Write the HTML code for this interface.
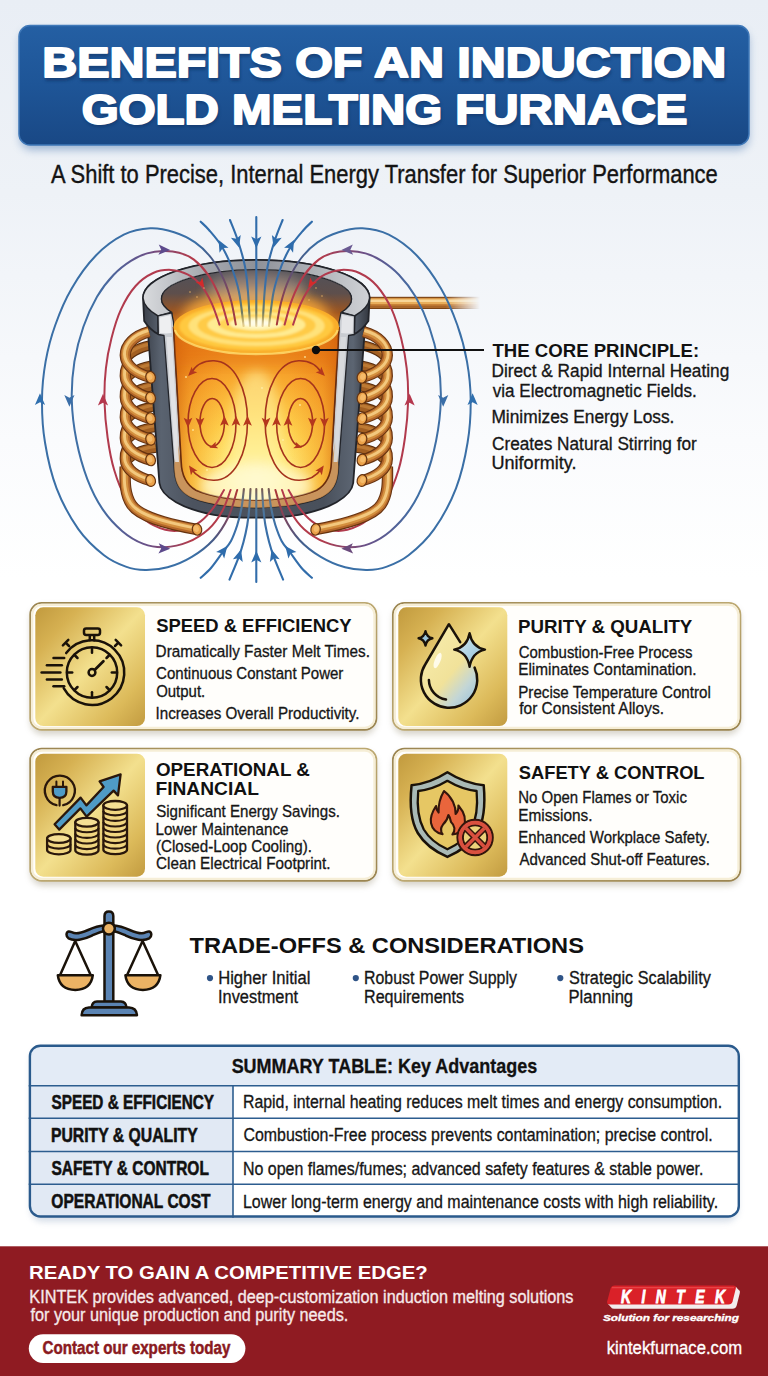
<!DOCTYPE html>
<html><head><meta charset="utf-8"><title>Benefits of an Induction Gold Melting Furnace</title>
<style>
html,body{margin:0;padding:0;background:#fff;}
body{width:768px;height:1376px;overflow:hidden;font-family:"Liberation Sans",sans-serif;}
svg{display:block;font-family:"Liberation Sans",sans-serif;}
</style></head><body>
<svg width="768" height="1376" viewBox="0 0 768 1376">
<defs>
<linearGradient id="bg" x1="0" y1="0" x2="0" y2="1">
 <stop offset="0" stop-color="#e9eef5"/><stop offset="0.14" stop-color="#eef2f7"/><stop offset="0.32" stop-color="#fafbfd"/><stop offset="0.42" stop-color="#ffffff"/><stop offset="1" stop-color="#ffffff"/>
</linearGradient>
<linearGradient id="titleg" x1="0" y1="0" x2="0" y2="1">
 <stop offset="0" stop-color="#245fa3"/><stop offset="0.5" stop-color="#1e5597"/><stop offset="1" stop-color="#194885"/>
</linearGradient>
<linearGradient id="gold" x1="0" y1="0" x2="1" y2="1">
 <stop offset="0" stop-color="#c19a3e"/><stop offset="0.2" stop-color="#d6b152"/><stop offset="0.5" stop-color="#f3e08e"/><stop offset="0.8" stop-color="#dcba5a"/><stop offset="1" stop-color="#c29b40"/>
</linearGradient>
<linearGradient id="cardb" x1="0" y1="0" x2="1" y2="1">
 <stop offset="0" stop-color="#9a8450"/><stop offset="0.5" stop-color="#bda972"/><stop offset="1" stop-color="#9a8450"/>
</linearGradient>
<filter id="sh" x="-10%" y="-10%" width="120%" height="130%"><feGaussianBlur stdDeviation="3"/></filter>
<filter id="sh2" x="-10%" y="-20%" width="120%" height="150%"><feGaussianBlur stdDeviation="4"/></filter>
<filter id="tsh" x="-5%" y="-20%" width="110%" height="150%"><feGaussianBlur stdDeviation="1.6"/></filter>
</defs>
<rect width="768" height="1376" fill="url(#bg)"/>
<rect x="20" y="30" width="729" height="120" rx="12" fill="#5f86b8" opacity="0.55" filter="url(#sh2)"/>
<rect x="19" y="25.5" width="730" height="119.5" rx="11" fill="url(#titleg)" stroke="#3f78b8" stroke-width="1.5"/>
<g font-size="43.2" font-weight="bold" stroke-linejoin="round"><text x="43.36213104458866" y="79.8" fill="#0d2f5e" stroke="#0d2f5e" stroke-width="2" opacity="0.55" filter="url(#tsh)" textLength="683.8993719907892" lengthAdjust="spacingAndGlyphs">BENEFITS OF AN INDUCTION</text><text x="42.36213104458866" y="77.3" fill="#ffffff" stroke="#ffffff" stroke-width="2" textLength="683.8993719907892" lengthAdjust="spacingAndGlyphs">BENEFITS OF AN INDUCTION</text></g>
<g font-size="43.2" font-weight="bold" stroke-linejoin="round"><text x="82.75310225303294" y="126.3" fill="#0d2f5e" stroke="#0d2f5e" stroke-width="2" opacity="0.55" filter="url(#tsh)" textLength="605.6010860774119" lengthAdjust="spacingAndGlyphs">GOLD MELTING FURNACE</text><text x="81.75310225303294" y="123.8" fill="#ffffff" stroke="#ffffff" stroke-width="2" textLength="605.6010860774119" lengthAdjust="spacingAndGlyphs">GOLD MELTING FURNACE</text></g>
<text x="51.06" y="182.8" font-size="25.7" font-weight="normal" fill="#141414" stroke="#141414" stroke-width="0.4" textLength="666.72" lengthAdjust="spacingAndGlyphs" >A Shift to Precise, Internal Energy Transfer for Superior Performance</text>
<line x1="316" y1="350" x2="484" y2="350" stroke="#111" stroke-width="1.8"/>
<text x="492.49" y="356.6" font-size="18.9" font-weight="bold" fill="#111"  textLength="206.60" lengthAdjust="spacingAndGlyphs" >THE CORE PRINCIPLE:</text>
<text x="491.44" y="376.7" font-size="18.3" font-weight="normal" fill="#161616" stroke="#161616" stroke-width="0.32" textLength="237.81" lengthAdjust="spacingAndGlyphs" >Direct &amp; Rapid Internal Heating</text>
<text x="492.80" y="396.7" font-size="18.3" font-weight="normal" fill="#161616" stroke="#161616" stroke-width="0.32" textLength="203.90" lengthAdjust="spacingAndGlyphs" >via Electromagnetic Fields.</text>
<text x="491.44" y="423.3" font-size="18.3" font-weight="normal" fill="#161616" stroke="#161616" stroke-width="0.32" textLength="182.98" lengthAdjust="spacingAndGlyphs" >Minimizes Energy Loss.</text>
<text x="491.99" y="450.0" font-size="18.3" font-weight="normal" fill="#161616" stroke="#161616" stroke-width="0.32" textLength="204.84" lengthAdjust="spacingAndGlyphs" >Creates Natural Stirring for</text>
<text x="491.47" y="469.3" font-size="18.3" font-weight="normal" fill="#161616" stroke="#161616" stroke-width="0.32" textLength="85.02" lengthAdjust="spacingAndGlyphs" >Uniformity.</text>
<rect x="30.3" y="606" width="346.0" height="128.70000000000005" rx="13" fill="#8a8064" opacity="0.34" filter="url(#sh)"/>
<rect x="30.2" y="602.9" width="346.2" height="126.90000000000005" rx="11.5" fill="#fffefb" stroke="url(#cardb)" stroke-width="1.8"/>
<rect x="32.2" y="604.9" width="342.2" height="122.90000000000005" rx="9.6" fill="none" stroke="#f6eed6" stroke-width="2.2"/>
<rect x="35.3" y="607.3" width="109.7" height="118.70000000000005" rx="8" fill="url(#gold)"/>
<rect x="393" y="606" width="347.29999999999995" height="128.70000000000005" rx="13" fill="#8a8064" opacity="0.34" filter="url(#sh)"/>
<rect x="392.9" y="602.9" width="347.49999999999994" height="126.90000000000005" rx="11.5" fill="#fffefb" stroke="url(#cardb)" stroke-width="1.8"/>
<rect x="394.9" y="604.9" width="343.49999999999994" height="122.90000000000005" rx="9.6" fill="none" stroke="#f6eed6" stroke-width="2.2"/>
<rect x="398.3" y="607.3" width="109.0" height="118.70000000000005" rx="8" fill="url(#gold)"/>
<rect x="30.3" y="751.7" width="346.0" height="134.0" rx="13" fill="#8a8064" opacity="0.34" filter="url(#sh)"/>
<rect x="30.2" y="748.6" width="346.2" height="132.2" rx="11.5" fill="#fffefb" stroke="url(#cardb)" stroke-width="1.8"/>
<rect x="32.2" y="750.6" width="342.2" height="128.2" rx="9.6" fill="none" stroke="#f6eed6" stroke-width="2.2"/>
<rect x="35.3" y="753.7" width="109.7" height="123.0" rx="8" fill="url(#gold)"/>
<rect x="393" y="751.7" width="347.29999999999995" height="134.0" rx="13" fill="#8a8064" opacity="0.34" filter="url(#sh)"/>
<rect x="392.9" y="748.6" width="347.49999999999994" height="132.2" rx="11.5" fill="#fffefb" stroke="url(#cardb)" stroke-width="1.8"/>
<rect x="394.9" y="750.6" width="343.49999999999994" height="128.2" rx="9.6" fill="none" stroke="#f6eed6" stroke-width="2.2"/>
<rect x="398.3" y="753.7" width="109.0" height="123.0" rx="8" fill="url(#gold)"/>
<text x="156.17" y="632.0" font-size="18" font-weight="bold" fill="#111"  textLength="195.43" lengthAdjust="spacingAndGlyphs" >SPEED &amp; EFFICIENCY</text>
<text x="155.60" y="656.7" font-size="17.2" font-weight="normal" fill="#161616" stroke="#161616" stroke-width="0.32" textLength="214.33" lengthAdjust="spacingAndGlyphs" >Dramatically Faster Melt Times.</text>
<text x="156.10" y="679.3" font-size="17.2" font-weight="normal" fill="#161616" stroke="#161616" stroke-width="0.32" textLength="187.29" lengthAdjust="spacingAndGlyphs" >Continuous Constant Power</text>
<text x="156.15" y="696.7" font-size="17.2" font-weight="normal" fill="#161616" stroke="#161616" stroke-width="0.32" textLength="49.05" lengthAdjust="spacingAndGlyphs" >Output.</text>
<text x="155.46" y="718.7" font-size="17.2" font-weight="normal" fill="#161616" stroke="#161616" stroke-width="0.32" textLength="204.07" lengthAdjust="spacingAndGlyphs" >Increases Overall Productivity.</text>
<text x="518.05" y="633.3" font-size="18" font-weight="bold" fill="#111"  textLength="174.25" lengthAdjust="spacingAndGlyphs" >PURITY &amp; QUALITY</text>
<text x="518.70" y="657.7" font-size="17.2" font-weight="normal" fill="#161616" stroke="#161616" stroke-width="0.32" textLength="173.68" lengthAdjust="spacingAndGlyphs" >Combustion-Free Process</text>
<text x="518.20" y="675.3" font-size="17.2" font-weight="normal" fill="#161616" stroke="#161616" stroke-width="0.32" textLength="178.34" lengthAdjust="spacingAndGlyphs" >Eliminates Contamination.</text>
<text x="518.22" y="697.7" font-size="17.2" font-weight="normal" fill="#161616" stroke="#161616" stroke-width="0.32" textLength="192.64" lengthAdjust="spacingAndGlyphs" >Precise Temperature Control</text>
<text x="519.24" y="714.3" font-size="17.2" font-weight="normal" fill="#161616" stroke="#161616" stroke-width="0.32" textLength="144.71" lengthAdjust="spacingAndGlyphs" >for Consistent Alloys.</text>
<text x="155.93" y="775.7" font-size="18" font-weight="bold" fill="#111"  textLength="153.96" lengthAdjust="spacingAndGlyphs" >OPERATIONAL &amp;</text>
<text x="155.42" y="795.3" font-size="18" font-weight="bold" fill="#111"  textLength="103.48" lengthAdjust="spacingAndGlyphs" >FINANCIAL</text>
<text x="156.17" y="817.3" font-size="17.2" font-weight="normal" fill="#161616" stroke="#161616" stroke-width="0.32" textLength="183.74" lengthAdjust="spacingAndGlyphs" >Significant Energy Savings.</text>
<text x="155.61" y="835.0" font-size="17.2" font-weight="normal" fill="#161616" stroke="#161616" stroke-width="0.32" textLength="132.91" lengthAdjust="spacingAndGlyphs" >Lower Maintenance</text>
<text x="155.92" y="852.3" font-size="17.2" font-weight="normal" fill="#161616" stroke="#161616" stroke-width="0.32" textLength="156.01" lengthAdjust="spacingAndGlyphs" >(Closed-Loop Cooling).</text>
<text x="156.09" y="869.0" font-size="17.2" font-weight="normal" fill="#161616" stroke="#161616" stroke-width="0.32" textLength="174.44" lengthAdjust="spacingAndGlyphs" >Clean Electrical Footprint.</text>
<text x="518.77" y="779.0" font-size="18" font-weight="bold" fill="#111"  textLength="185.79" lengthAdjust="spacingAndGlyphs" >SAFETY &amp; CONTROL</text>
<text x="518.23" y="803.3" font-size="17.2" font-weight="normal" fill="#161616" stroke="#161616" stroke-width="0.32" textLength="168.70" lengthAdjust="spacingAndGlyphs" >No Open Flames or Toxic</text>
<text x="518.20" y="820.7" font-size="17.2" font-weight="normal" fill="#161616" stroke="#161616" stroke-width="0.32" textLength="74.35" lengthAdjust="spacingAndGlyphs" >Emissions.</text>
<text x="518.23" y="843.3" font-size="17.2" font-weight="normal" fill="#161616" stroke="#161616" stroke-width="0.32" textLength="191.67" lengthAdjust="spacingAndGlyphs" >Enhanced Workplace Safety.</text>
<text x="519.43" y="865.0" font-size="17.2" font-weight="normal" fill="#161616" stroke="#161616" stroke-width="0.32" textLength="190.48" lengthAdjust="spacingAndGlyphs" >Advanced Shut-off Features.</text>
<text x="189.53" y="952.8" font-size="22.2" font-weight="bold" fill="#111"  textLength="394.39" lengthAdjust="spacingAndGlyphs" >TRADE-OFFS &amp; CONSIDERATIONS</text>
<circle cx="210" cy="978.1" r="3.1" fill="#2f5487"/>
<circle cx="355.8" cy="978.1" r="3.1" fill="#2f5487"/>
<circle cx="560.3" cy="978.1" r="3.1" fill="#2f5487"/>
<text x="218.20" y="983.9" font-size="18" font-weight="normal" fill="#161616" stroke="#161616" stroke-width="0.32" textLength="92.15" lengthAdjust="spacingAndGlyphs" >Higher Initial</text>
<text x="218.05" y="1002.5" font-size="18" font-weight="normal" fill="#161616" stroke="#161616" stroke-width="0.32" textLength="80.01" lengthAdjust="spacingAndGlyphs" >Investment</text>
<text x="364.06" y="983.9" font-size="18" font-weight="normal" fill="#161616" stroke="#161616" stroke-width="0.32" textLength="152.81" lengthAdjust="spacingAndGlyphs" >Robust Power Supply</text>
<text x="364.04" y="1002.5" font-size="18" font-weight="normal" fill="#161616" stroke="#161616" stroke-width="0.32" textLength="99.98" lengthAdjust="spacingAndGlyphs" >Requirements</text>
<text x="569.12" y="983.9" font-size="18" font-weight="normal" fill="#161616" stroke="#161616" stroke-width="0.32" textLength="141.75" lengthAdjust="spacingAndGlyphs" >Strategic Scalability</text>
<text x="568.50" y="1002.5" font-size="18" font-weight="normal" fill="#161616" stroke="#161616" stroke-width="0.32" textLength="64.61" lengthAdjust="spacingAndGlyphs" >Planning</text>
<rect x="30.7" y="1048.5" width="707.3" height="173.20000000000005" rx="12" fill="#8aa0bd" opacity="0.35" filter="url(#sh)"/>
<clipPath id="tclip"><rect x="29.9" y="1045.7" width="708.9" height="170.80000000000004" rx="10.5"/></clipPath>
<g clip-path="url(#tclip)"><rect x="28.7" y="1044.5" width="711.3" height="173.20000000000005" fill="#ffffff"/><rect x="28.7" y="1044.5" width="711.3" height="41.200000000000045" fill="#e3ebf6"/><rect x="28.7" y="1085.7" width="204.3" height="132.0" fill="#e1e9f4"/></g>
<line x1="28.7" y1="1085.7" x2="740" y2="1085.7" stroke="#2c5d8f" stroke-width="1.6"/>
<line x1="28.7" y1="1118.3" x2="740" y2="1118.3" stroke="#2c5d8f" stroke-width="1.6"/>
<line x1="28.7" y1="1151.5" x2="740" y2="1151.5" stroke="#2c5d8f" stroke-width="1.6"/>
<line x1="28.7" y1="1184.3" x2="740" y2="1184.3" stroke="#2c5d8f" stroke-width="1.6"/>
<line x1="233" y1="1085.7" x2="233" y2="1217.7" stroke="#2c5d8f" stroke-width="1.6"/>
<rect x="29.9" y="1045.7" width="708.9" height="170.80000000000004" rx="10.5" fill="none" stroke="#2a5a8c" stroke-width="2.4"/>
<text x="231.63" y="1072.7" font-size="20.4" font-weight="bold" fill="#111" stroke="#111" stroke-width="0.3" textLength="305.66" lengthAdjust="spacingAndGlyphs" >SUMMARY TABLE: Key Advantages</text>
<text x="51.53" y="1108.5" font-size="19.5" font-weight="bold" fill="#111" stroke="#111" stroke-width="0.55" textLength="162.44" lengthAdjust="spacingAndGlyphs" >SPEED &amp; EFFICIENCY</text>
<text x="242.96" y="1108.3" font-size="18.7" font-weight="normal" fill="#161616" stroke="#161616" stroke-width="0.32" textLength="479.13" lengthAdjust="spacingAndGlyphs" >Rapid, internal heating reduces melt times and energy consumption.</text>
<text x="50.92" y="1141.6" font-size="19.5" font-weight="bold" fill="#111" stroke="#111" stroke-width="0.55" textLength="146.76" lengthAdjust="spacingAndGlyphs" >PURITY &amp; QUALITY</text>
<text x="243.45" y="1141.4" font-size="18.7" font-weight="normal" fill="#161616" stroke="#161616" stroke-width="0.32" textLength="469.24" lengthAdjust="spacingAndGlyphs" >Combustion-Free process prevents contamination; precise control.</text>
<text x="51.53" y="1175.1" font-size="19.5" font-weight="bold" fill="#111" stroke="#111" stroke-width="0.55" textLength="157.37" lengthAdjust="spacingAndGlyphs" >SAFETY &amp; CONTROL</text>
<text x="242.95" y="1174.9" font-size="18.7" font-weight="normal" fill="#161616" stroke="#161616" stroke-width="0.32" textLength="460.45" lengthAdjust="spacingAndGlyphs" >No open flames/fumes; advanced safety features &amp; stable power.</text>
<text x="51.34" y="1207.8" font-size="19.5" font-weight="bold" fill="#111" stroke="#111" stroke-width="0.55" textLength="159.25" lengthAdjust="spacingAndGlyphs" >OPERATIONAL COST</text>
<text x="242.95" y="1207.6" font-size="18.7" font-weight="normal" fill="#161616" stroke="#161616" stroke-width="0.32" textLength="475.15" lengthAdjust="spacingAndGlyphs" >Lower long-term energy and maintenance costs with high reliability.</text>
<rect x="0" y="1246.3" width="768" height="129.70000000000005" fill="#8f1b22"/>
<text x="29.14" y="1278.7" font-size="18.2" font-weight="bold" fill="#ffffff"  textLength="398.53" lengthAdjust="spacingAndGlyphs" >READY TO GAIN A COMPETITIVE EDGE?</text>
<text x="29.33" y="1302.6" font-size="17.5" font-weight="normal" fill="#f6eaea" stroke="#f6eaea" stroke-width="0.32" textLength="544.10" lengthAdjust="spacingAndGlyphs" >KINTEK provides advanced, deep-customization induction melting solutions</text>
<text x="30.43" y="1321.3" font-size="17.5" font-weight="normal" fill="#f6eaea" stroke="#f6eaea" stroke-width="0.32" textLength="317.89" lengthAdjust="spacingAndGlyphs" >for your unique production and purity needs.</text>
<rect x="28.8" y="1334.2" width="216.6" height="28.7" rx="14.3" fill="#ffffff"/>
<text x="42.53" y="1354.2" font-size="18.4" font-weight="bold" fill="#8a1a21" stroke="#8a1a21" stroke-width="0.5" textLength="187.80" lengthAdjust="spacingAndGlyphs" >Contact our experts today</text>
<text x="606.63" y="1353.5" font-size="18.3" font-weight="normal" fill="#ffffff" stroke="#ffffff" stroke-width="0.32" textLength="135.51" lengthAdjust="spacingAndGlyphs" >kintekfurnace.com</text>
<g fill="#f3eded"><path d="M615,1285.4 L733,1285.4 Q736.6,1285.4 735.8,1288.6 L732.6,1301.4 Q731.8,1304.4 728.4,1304.4 L610,1304.4 Q606.4,1304.4 607.2,1301.2 L610.6,1288.4 Q611.4,1285.4 615,1285.4 Z" transform="translate(1.2,1.4)"/><path d="M615,1285.4 L733,1285.4 Q736.6,1285.4 735.8,1288.6 L732.6,1301.4 Q731.8,1304.4 728.4,1304.4 L610,1304.4 Q606.4,1304.4 607.2,1301.2 L610.6,1288.4 Q611.4,1285.4 615,1285.4 Z" transform="translate(2.6,2.9)"/><path d="M615,1285.4 L733,1285.4 Q736.6,1285.4 735.8,1288.6 L732.6,1301.4 Q731.8,1304.4 728.4,1304.4 L610,1304.4 Q606.4,1304.4 607.2,1301.2 L610.6,1288.4 Q611.4,1285.4 615,1285.4 Z" transform="translate(4,4.4)"/></g>
<path d="M615,1285.4 L733,1285.4 Q736.6,1285.4 735.8,1288.6 L732.6,1301.4 Q731.8,1304.4 728.4,1304.4 L610,1304.4 Q606.4,1304.4 607.2,1301.2 L610.6,1288.4 Q611.4,1285.4 615,1285.4 Z" fill="#da2128"/>
<path d="M612,1287.6 L734,1287.6" stroke="#ee5a5a" stroke-width="1.2" opacity="0.6" fill="none"/>
<text transform="translate(621,1303) scale(0.74,1)" x="0" y="0" font-size="18.7" font-weight="bold" font-style="italic" fill="#ffffff" stroke="#ffffff" stroke-width="0.9" textLength="140.5" lengthAdjust="spacing">KINTEK</text>
<text x="602.93" y="1321.4" font-size="9.8" font-weight="bold" fill="#ffffff" stroke="#ffffff" stroke-width="0.35" textLength="136.09" lengthAdjust="spacingAndGlyphs" font-style="italic">Solution for researching</text>
<defs>
<linearGradient id="gL1" gradientUnits="userSpaceOnUse" x1="195" y1="0" x2="236" y2="0"><stop offset="0" stop-color="#3a6fa6"/><stop offset="0.45" stop-color="#465a86"/><stop offset="0.8" stop-color="#7a4660"/><stop offset="1" stop-color="#a8383a"/></linearGradient>
<linearGradient id="gL1r" gradientUnits="userSpaceOnUse" x1="317.6" y1="0" x2="276.6" y2="0"><stop offset="0" stop-color="#3a6fa6"/><stop offset="0.45" stop-color="#465a86"/><stop offset="0.8" stop-color="#7a4660"/><stop offset="1" stop-color="#a8383a"/></linearGradient>
<linearGradient id="gL2" gradientUnits="userSpaceOnUse" x1="95" y1="0" x2="192" y2="0"><stop offset="0" stop-color="#3f6fa5"/><stop offset="0.55" stop-color="#6b4f86"/><stop offset="1" stop-color="#b33a4a"/></linearGradient>
<linearGradient id="gL2r" gradientUnits="userSpaceOnUse" x1="417.6" y1="0" x2="320.6" y2="0"><stop offset="0" stop-color="#3f6fa5"/><stop offset="0.55" stop-color="#6b4f86"/><stop offset="1" stop-color="#b33a4a"/></linearGradient>
<linearGradient id="gTop" gradientUnits="userSpaceOnUse" x1="0" y1="215" x2="0" y2="328"><stop offset="0" stop-color="#2f6cab"/><stop offset="0.62" stop-color="#3a6fa8"/><stop offset="0.86" stop-color="#6f7a63"/><stop offset="1" stop-color="#c9962a" stop-opacity="0.3"/></linearGradient>
<linearGradient id="gBot" gradientUnits="userSpaceOnUse" x1="0" y1="584" x2="0" y2="488"><stop offset="0" stop-color="#2f6cab"/><stop offset="0.6" stop-color="#3a6fa8"/><stop offset="0.85" stop-color="#5a7890"/><stop offset="1" stop-color="#7a5a50"/></linearGradient>
<linearGradient id="body" gradientUnits="userSpaceOnUse" x1="143" y1="0" x2="369" y2="0"><stop offset="0" stop-color="#3a3f49"/><stop offset="0.08" stop-color="#5a6370"/><stop offset="0.22" stop-color="#4c535f"/><stop offset="0.8" stop-color="#49505b"/><stop offset="0.93" stop-color="#5c6572"/><stop offset="1" stop-color="#33373f"/></linearGradient>
<linearGradient id="rimtop" gradientUnits="userSpaceOnUse" x1="143" y1="0" x2="369" y2="0"><stop offset="0" stop-color="#d9dbde"/><stop offset="0.25" stop-color="#a9acb2"/><stop offset="0.5" stop-color="#8e9198"/><stop offset="0.8" stop-color="#b4b7bc"/><stop offset="1" stop-color="#d0d2d6"/></linearGradient>
<linearGradient id="inwall" gradientUnits="userSpaceOnUse" x1="0" y1="269" x2="0" y2="330"><stop offset="0" stop-color="#50515a"/><stop offset="0.4" stop-color="#5e4f4c"/><stop offset="0.72" stop-color="#a0561f"/><stop offset="1" stop-color="#e8861a"/></linearGradient>
<radialGradient id="melt" gradientUnits="userSpaceOnUse" cx="256" cy="468" r="150" fx="256" fy="478"><stop offset="0" stop-color="#fff9c4"/><stop offset="0.18" stop-color="#ffec80"/><stop offset="0.4" stop-color="#fecd4a"/><stop offset="0.64" stop-color="#f8a82e"/><stop offset="0.86" stop-color="#ee881e"/><stop offset="1" stop-color="#e47616"/></radialGradient>
<linearGradient id="meltside" gradientUnits="userSpaceOnUse" x1="174" y1="0" x2="339" y2="0"><stop offset="0" stop-color="#c85a0a" stop-opacity="0.6"/><stop offset="0.1" stop-color="#e07612" stop-opacity="0.2"/><stop offset="0.3" stop-color="#f08a1c" stop-opacity="0"/><stop offset="0.7" stop-color="#f08a1c" stop-opacity="0"/><stop offset="0.9" stop-color="#e07612" stop-opacity="0.2"/><stop offset="1" stop-color="#c85a0a" stop-opacity="0.6"/></linearGradient>
<radialGradient id="surf" cx="0.5" cy="0.42" r="0.62"><stop offset="0" stop-color="#fffbd0"/><stop offset="0.28" stop-color="#ffec78"/><stop offset="0.62" stop-color="#ffd040"/><stop offset="0.9" stop-color="#fbaa24"/><stop offset="1" stop-color="#f59a20"/></radialGradient>
<linearGradient id="cu" x1="0" y1="0" x2="0" y2="1"><stop offset="0" stop-color="#f1b766"/><stop offset="0.45" stop-color="#d08534"/><stop offset="1" stop-color="#9a5418"/></linearGradient>
<linearGradient id="lead" gradientUnits="userSpaceOnUse" x1="366" y1="0" x2="480" y2="0"><stop offset="0" stop-color="#fff" stop-opacity="1"/><stop offset="0.7" stop-color="#fff" stop-opacity="1"/><stop offset="1" stop-color="#fff" stop-opacity="0"/></linearGradient>
<mask id="leadm"><rect x="360" y="290" width="125" height="26" fill="url(#lead)"/></mask>
<filter id="glow" x="-30%" y="-30%" width="160%" height="160%"><feGaussianBlur stdDeviation="6"/></filter>
</defs>
<g >
<g fill="none" stroke-linecap="butt" ><path d="M126,358.3 C132,350.3 142,346.3 156,344.3" stroke="#5a2e0e" stroke-width="10.4"/><path d="M126,358.3 C132,350.3 142,346.3 156,344.3" stroke="#a25f22" stroke-width="8.2"/><path d="M126,358.3 C132,350.3 142,346.3 156,344.3" stroke="#bd7a34" stroke-width="3.1" transform="translate(-0.5,-1.2)"/></g>
<g fill="none" stroke-linecap="butt" ><path d="M126,378.9 C132,370.9 142,366.9 156,364.9" stroke="#5a2e0e" stroke-width="10.4"/><path d="M126,378.9 C132,370.9 142,366.9 156,364.9" stroke="#a25f22" stroke-width="8.2"/><path d="M126,378.9 C132,370.9 142,366.9 156,364.9" stroke="#bd7a34" stroke-width="3.1" transform="translate(-0.5,-1.2)"/></g>
<g fill="none" stroke-linecap="butt" ><path d="M126,399.6 C132,391.6 142,387.6 156,385.6" stroke="#5a2e0e" stroke-width="10.4"/><path d="M126,399.6 C132,391.6 142,387.6 156,385.6" stroke="#a25f22" stroke-width="8.2"/><path d="M126,399.6 C132,391.6 142,387.6 156,385.6" stroke="#bd7a34" stroke-width="3.1" transform="translate(-0.5,-1.2)"/></g>
<g fill="none" stroke-linecap="butt" ><path d="M126,420.2 C132,412.2 142,408.2 156,406.2" stroke="#5a2e0e" stroke-width="10.4"/><path d="M126,420.2 C132,412.2 142,408.2 156,406.2" stroke="#a25f22" stroke-width="8.2"/><path d="M126,420.2 C132,412.2 142,408.2 156,406.2" stroke="#bd7a34" stroke-width="3.1" transform="translate(-0.5,-1.2)"/></g>
<g fill="none" stroke-linecap="butt" ><path d="M126,440.9 C132,432.9 142,428.9 156,426.9" stroke="#5a2e0e" stroke-width="10.4"/><path d="M126,440.9 C132,432.9 142,428.9 156,426.9" stroke="#a25f22" stroke-width="8.2"/><path d="M126,440.9 C132,432.9 142,428.9 156,426.9" stroke="#bd7a34" stroke-width="3.1" transform="translate(-0.5,-1.2)"/></g>
<g fill="none" stroke-linecap="butt" ><path d="M126,461.6 C132,453.6 142,449.6 156,447.6" stroke="#5a2e0e" stroke-width="10.4"/><path d="M126,461.6 C132,453.6 142,449.6 156,447.6" stroke="#a25f22" stroke-width="8.2"/><path d="M126,461.6 C132,453.6 142,449.6 156,447.6" stroke="#bd7a34" stroke-width="3.1" transform="translate(-0.5,-1.2)"/></g>
</g>
<g transform="translate(512.6,0) scale(-1,1)">
<g fill="none" stroke-linecap="butt" ><path d="M126,358.3 C132,350.3 142,346.3 156,344.3" stroke="#5a2e0e" stroke-width="10.4"/><path d="M126,358.3 C132,350.3 142,346.3 156,344.3" stroke="#a25f22" stroke-width="8.2"/><path d="M126,358.3 C132,350.3 142,346.3 156,344.3" stroke="#bd7a34" stroke-width="3.1" transform="translate(-0.5,-1.2)"/></g>
<g fill="none" stroke-linecap="butt" ><path d="M126,378.9 C132,370.9 142,366.9 156,364.9" stroke="#5a2e0e" stroke-width="10.4"/><path d="M126,378.9 C132,370.9 142,366.9 156,364.9" stroke="#a25f22" stroke-width="8.2"/><path d="M126,378.9 C132,370.9 142,366.9 156,364.9" stroke="#bd7a34" stroke-width="3.1" transform="translate(-0.5,-1.2)"/></g>
<g fill="none" stroke-linecap="butt" ><path d="M126,399.6 C132,391.6 142,387.6 156,385.6" stroke="#5a2e0e" stroke-width="10.4"/><path d="M126,399.6 C132,391.6 142,387.6 156,385.6" stroke="#a25f22" stroke-width="8.2"/><path d="M126,399.6 C132,391.6 142,387.6 156,385.6" stroke="#bd7a34" stroke-width="3.1" transform="translate(-0.5,-1.2)"/></g>
<g fill="none" stroke-linecap="butt" ><path d="M126,420.2 C132,412.2 142,408.2 156,406.2" stroke="#5a2e0e" stroke-width="10.4"/><path d="M126,420.2 C132,412.2 142,408.2 156,406.2" stroke="#a25f22" stroke-width="8.2"/><path d="M126,420.2 C132,412.2 142,408.2 156,406.2" stroke="#bd7a34" stroke-width="3.1" transform="translate(-0.5,-1.2)"/></g>
<g fill="none" stroke-linecap="butt" ><path d="M126,440.9 C132,432.9 142,428.9 156,426.9" stroke="#5a2e0e" stroke-width="10.4"/><path d="M126,440.9 C132,432.9 142,428.9 156,426.9" stroke="#a25f22" stroke-width="8.2"/><path d="M126,440.9 C132,432.9 142,428.9 156,426.9" stroke="#bd7a34" stroke-width="3.1" transform="translate(-0.5,-1.2)"/></g>
<g fill="none" stroke-linecap="butt" ><path d="M126,461.6 C132,453.6 142,449.6 156,447.6" stroke="#5a2e0e" stroke-width="10.4"/><path d="M126,461.6 C132,453.6 142,449.6 156,447.6" stroke="#a25f22" stroke-width="8.2"/><path d="M126,461.6 C132,453.6 142,449.6 156,447.6" stroke="#bd7a34" stroke-width="3.1" transform="translate(-0.5,-1.2)"/></g>
</g>
<g mask="url(#leadm)"><rect x="360" y="296.8" width="125" height="12.2" fill="#7a4316"/><rect x="360" y="297.9" width="125" height="10" fill="#c98238"/><rect x="360" y="298.6" width="125" height="5.4" fill="#e8ae5c"/><rect x="360" y="299.6" width="125" height="2.4" fill="#f8d698"/><rect x="360" y="305.6" width="125" height="2.3" fill="#a8652a"/></g>
<path d="M147.5,326 L159.4,483 C161,497 184,509.5 214,514.8 C235,518.6 277.6,518.6 298.6,514.8 C328.6,509.5 351.6,497 353.2,483 L365.1,326 Z" fill="url(#body)" stroke="#22242a" stroke-width="1.8" stroke-linejoin="round"/>
<path d="M143,298 A113,38 0 0 1 369.6,298 L368.4,321 Q362,330 354.2,334.2 L354.6,315.5 L158,315.5 L158.4,334.2 Q150,330 144.2,321 Z" fill="url(#body)" stroke="#22242a" stroke-width="1.8" stroke-linejoin="round"/>
<path d="M143,298 A113,38 0 0 1 369.6,298 A113,38 0 0 1 354.6,316 L341.3,312.2 A95,29.3 0 0 0 351.5,299 A95,29.3 0 0 0 161.5,299 A95,29.3 0 0 0 171.7,312.2 L158,316 A113,38 0 0 1 143,298 Z" fill="url(#rimtop)" stroke="#22242a" stroke-width="1.5" stroke-linejoin="round"/>
<path d="M162.8,298 A93.7,28.3 0 0 1 350.2,298" fill="none" stroke="#f4f5f6" stroke-width="1.5" opacity="0.85"/>
<path d="M161.5,299 A95,29.3 0 0 1 351.5,299 A95,29.3 0 0 1 341.3,312.2 L339,330 L173.6,330 L171.7,312.2 A95,29.3 0 0 1 161.5,299 Z" fill="url(#inwall)" stroke="#22242a" stroke-width="1.2"/>
<clipPath id="inclip"><path d="M161.5,299 A95,29.3 0 0 1 351.5,299 A95,29.3 0 0 1 341.3,312.2 L339,330 L173.6,330 L171.7,312.2 A95,29.3 0 0 1 161.5,299 Z"/></clipPath>
<g clip-path="url(#inclip)"><ellipse cx="256" cy="318" rx="74" ry="30" fill="#ffae3a" opacity="0.8" filter="url(#glow)"/><ellipse cx="256" cy="288" rx="50" ry="16" fill="#c9b0a0" opacity="0.45" filter="url(#glow)"/></g>
<path d="M158,315.8 L171.7,312.8 L173.5,322 L181.2,462 C181.6,476 186,484.5 196,490.3 C212,497.5 238,500 256.3,500 C274.6,500 300.6,497.5 316.6,490.3 C326.6,484.5 331,476 331.4,462 L339.1,322 L340.9,312.8 L354.6,315.8 L354.3,334.5 L348.6,335.5 L338.6,466 C338.2,484 332.6,492 320.6,497.8 C302.6,505.5 274.6,507.8 256.3,507.8 C238,507.8 210,505.5 192,497.8 C180,492 174.4,484 174,466 L164,335.5 L158.3,334.5 Z" fill="#c9ccd1" stroke="#22242a" stroke-width="1.3" stroke-linejoin="round"/>
<path d="M177,440 L181.2,462 C181.6,476 186,484.5 196,490.3 C212,497.5 238,500 256.3,500 C274.6,500 300.6,497.5 316.6,490.3 C326.6,484.5 331,476 331.4,462 L335.6,440 L338.4,466 C338.2,484 332.6,492 320.6,497.8 C302.6,505.5 274.6,507.8 256.3,507.8 C238,507.8 210,505.5 192,497.8 C180,492 174.4,484 174.2,466 Z" fill="#c98a48" opacity="0.85"/>
<path d="M159.5,317.5 L170.5,315 L171.5,333 L166,333.5 L160,333 Z" fill="#eeeff1"/><path d="M353.1,317.5 L342.1,315 L341.1,333 L346.6,333.5 L352.6,333 Z" fill="#e4e5e8"/>
<path d="M166.5,337 L172,337 L179,462 L175.2,462 Z" fill="#e3e4e7" opacity="0.9"/><path d="M346.1,337 L340.6,337 L333.6,462 L337.4,462 Z" fill="#d9dbde" opacity="0.9"/>
<path d="M173.5,327 L181.2,462 C181.6,476 186,484.5 196,490.3 C212,497.5 238,500 256.3,500 C274.6,500 300.6,497.5 316.6,490.3 C326.6,484.5 331,476 331.4,462 L339.1,327 Z" fill="url(#melt)"/>
<path d="M173.5,327 L181.2,462 C181.6,476 186,484.5 196,490.3 C212,497.5 238,500 256.3,500 C274.6,500 300.6,497.5 316.6,490.3 C326.6,484.5 331,476 331.4,462 L339.1,327 Z" fill="url(#meltside)"/>
<path d="M173.5,327 L181.2,462 C181.6,476 186,484.5 196,490.3 C212,497.5 238,500 256.3,500 C274.6,500 300.6,497.5 316.6,490.3 C326.6,484.5 331,476 331.4,462 L339.1,327" fill="none" stroke="#6a2c0c" stroke-width="1.6"/>
<clipPath id="meltclip"><path d="M173.5,327 L181.2,462 C181.6,476 186,484.5 196,490.3 C212,497.5 238,500 256.3,500 C274.6,500 300.6,497.5 316.6,490.3 C326.6,484.5 331,476 331.4,462 L339.1,327 Z"/></clipPath>
<g clip-path="url(#meltclip)"><ellipse cx="256.3" cy="440" rx="26" ry="70" fill="#fff1a0" opacity="0.6" filter="url(#glow)"/><ellipse cx="256.3" cy="486" rx="56" ry="22" fill="#fffbd8" opacity="0.75" filter="url(#glow)"/><rect x="170" y="340" width="172" height="26" fill="#e06c10" opacity="0.35" filter="url(#glow)"/></g>
<filter id="soft" x="-5%" y="-10%" width="110%" height="120%"><feGaussianBlur stdDeviation="0.9"/></filter>
<ellipse cx="256.3" cy="327" rx="82.8" ry="27" fill="#f9ae2a"/>
<g filter="url(#soft)"><ellipse cx="256.3" cy="326.6" rx="77" ry="23.6" fill="#ffc940"/><ellipse cx="256.6" cy="326" rx="68" ry="20" fill="#ffe27a"/><ellipse cx="256.6" cy="325.4" rx="59" ry="16.6" fill="#ffcb46"/><ellipse cx="256.4" cy="324.8" rx="49" ry="13.2" fill="#ffeb92"/><ellipse cx="256.4" cy="324.2" rx="38" ry="9.8" fill="#ffd456"/><ellipse cx="256.3" cy="323.6" rx="27" ry="6.6" fill="#fff3b0"/><ellipse cx="256.3" cy="323.2" rx="15" ry="3.6" fill="#fffce6"/></g>
<path d="M175,330 A81.5,26 0 0 0 337.6,330" fill="none" stroke="#ffdf70" stroke-width="2.2" opacity="0.8"/>
<g fill="none" stroke-width="2.0" stroke-linecap="round">
<path d="M235.8,324.6 C235.1,320.9 233.4,309.7 231.4,302.1 C229.4,294.6 227.0,286.6 223.7,279.4 C220.4,272.1 216.5,264.7 211.7,258.5 C207.0,252.3 201.4,246.8 195.1,242.4 C188.8,238.0 181.5,234.5 174.1,232.2 C166.6,229.8 158.6,227.9 150.2,228.3 C141.9,228.7 132.9,230.2 123.8,234.7 C114.7,239.3 104.3,246.8 95.7,255.7 C87.0,264.6 78.4,276.8 71.7,288.4 C64.9,299.9 59.6,312.8 55.3,325.0 C50.9,337.2 47.8,349.2 45.6,361.7 C43.4,374.2 42.1,386.5 42.0,400.0 C41.9,413.5 42.5,427.8 45.0,442.5 C47.4,457.2 51.1,473.9 56.6,488.3 C62.2,502.8 70.5,518.0 78.3,529.1 C86.2,540.3 96.1,549.0 104.0,555.2 C111.9,561.4 118.9,564.1 125.8,566.6 C132.6,569.1 138.3,569.9 145.2,570.0 C152.2,570.1 159.8,569.5 167.5,567.3 C175.3,565.1 184.2,561.4 191.8,556.8 C199.5,552.3 207.3,546.3 213.4,539.7 C219.5,533.1 224.4,525.3 228.4,517.0 C232.3,508.8 235.7,494.5 237.2,490.0" stroke="url(#gL1)"/><path d="M276.8,324.6 C277.5,320.9 279.2,309.7 281.2,302.1 C283.2,294.6 285.6,286.6 288.9,279.4 C292.1,272.1 296.1,264.7 300.9,258.5 C305.6,252.3 311.2,246.8 317.5,242.4 C323.8,238.0 331.1,234.5 338.6,232.2 C346.0,229.8 354.0,227.9 362.4,228.3 C370.7,228.7 379.7,230.2 388.8,234.7 C397.9,239.3 408.3,246.8 417.0,255.7 C425.6,264.6 434.2,276.8 441.0,288.4 C447.7,299.9 453.0,312.8 457.3,325.0 C461.7,337.2 464.8,349.2 467.0,361.7 C469.2,374.2 470.6,386.5 470.7,400.0 C470.8,413.5 470.1,427.8 467.6,442.5 C465.2,457.2 461.5,473.9 456.0,488.3 C450.4,502.8 442.1,518.0 434.2,529.1 C426.4,540.3 416.5,549.0 408.6,555.2 C400.7,561.4 393.7,564.1 386.9,566.6 C380.0,569.1 374.3,569.9 367.4,570.0 C360.4,570.1 352.8,569.5 345.1,567.3 C337.3,565.1 328.4,561.4 320.8,556.8 C313.1,552.3 305.3,546.3 299.2,539.7 C293.1,533.1 288.2,525.3 284.2,517.0 C280.3,508.8 276.9,494.5 275.4,490.0" stroke="url(#gL1r)"/>
<path d="M228.0,324.6 C226.7,320.3 223.5,306.8 220.2,298.6 C217.0,290.3 212.7,281.6 208.3,275.1 C204.0,268.7 198.8,263.4 193.9,259.6 C189.1,255.9 184.2,254.1 179.1,252.7 C174.0,251.3 168.5,251.0 163.2,251.1 C157.8,251.2 152.5,251.8 147.1,253.4 C141.7,255.0 136.5,257.3 130.9,260.8 C125.4,264.3 119.3,268.7 113.7,274.7 C108.0,280.7 102.1,288.0 97.0,296.7 C92.0,305.4 87.1,315.8 83.4,326.7 C79.6,337.5 76.4,349.5 74.4,361.7 C72.5,373.9 71.4,386.8 71.8,400.0 C72.1,413.2 73.9,427.6 76.5,440.8 C79.1,454.0 83.0,467.7 87.3,479.1 C91.7,490.6 96.8,500.7 102.7,509.4 C108.5,518.0 115.5,525.4 122.3,531.2 C129.1,537.0 136.3,541.2 143.4,543.9 C150.5,546.6 157.3,547.5 164.7,547.2 C172.1,546.9 180.4,545.2 187.7,542.2 C195.0,539.2 202.7,534.4 208.5,529.2 C214.2,524.0 218.6,517.5 222.3,510.9 C226.0,504.4 229.2,493.5 230.6,490.0" stroke="url(#gL2)"/><path d="M284.6,324.6 C285.9,320.3 289.1,306.8 292.4,298.6 C295.6,290.3 299.9,281.6 304.2,275.1 C308.6,268.7 313.8,263.4 318.7,259.6 C323.5,255.9 328.4,254.1 333.5,252.7 C338.6,251.3 344.1,251.0 349.4,251.1 C354.8,251.2 360.1,251.8 365.5,253.4 C370.9,255.0 376.1,257.3 381.7,260.8 C387.2,264.3 393.3,268.7 398.9,274.7 C404.6,280.7 410.5,288.0 415.6,296.7 C420.6,305.4 425.5,315.8 429.2,326.7 C433.0,337.5 436.2,349.5 438.2,361.7 C440.1,373.9 441.2,386.8 440.8,400.0 C440.5,413.2 438.7,427.6 436.1,440.8 C433.5,454.0 429.6,467.7 425.2,479.1 C420.9,490.6 415.8,500.7 409.9,509.4 C404.1,518.0 397.1,525.4 390.3,531.2 C383.5,537.0 376.3,541.2 369.2,543.9 C362.1,546.6 355.3,547.5 347.9,547.2 C340.5,546.9 332.2,545.2 324.9,542.2 C317.6,539.2 309.9,534.4 304.1,529.2 C298.4,524.0 294.0,517.5 290.3,510.9 C286.6,504.4 283.4,493.5 282.0,490.0" stroke="url(#gL2r)"/>
<path d="M219.5,324.6 C218.2,321.0 214.7,309.7 211.6,303.1 C208.6,296.6 205.1,290.2 201.1,285.4 C197.1,280.6 192.5,276.9 187.5,274.4 C182.5,271.8 176.6,270.2 170.9,269.9 C165.2,269.7 159.1,270.3 153.2,273.0 C147.3,275.7 140.9,279.9 135.6,286.0 C130.2,292.1 125.0,300.7 121.0,309.4 C116.9,318.2 113.9,328.7 111.4,338.5 C108.9,348.3 107.0,357.8 105.9,368.4 C104.7,378.9 104.2,390.2 104.5,401.7 C104.8,413.2 106.0,426.1 107.6,437.5 C109.2,448.9 111.1,459.9 114.2,470.0 C117.2,480.1 120.8,490.0 125.9,498.2 C131.0,506.5 137.9,514.2 144.5,519.5 C151.1,524.8 158.7,528.0 165.3,529.8 C171.9,531.5 178.2,531.1 184.1,529.8 C189.9,528.4 195.7,525.2 200.7,521.4 C205.6,517.6 210.1,512.3 213.9,507.1 C217.8,501.8 222.3,492.8 224.0,490.0" stroke="#b13a4d"/><path d="M293.1,324.6 C294.4,321.0 297.9,309.7 301.0,303.1 C304.0,296.6 307.5,290.2 311.5,285.4 C315.5,280.6 320.1,276.9 325.1,274.4 C330.1,271.8 336.0,270.2 341.7,269.9 C347.4,269.7 353.5,270.3 359.4,273.0 C365.3,275.7 371.7,279.9 377.0,286.0 C382.4,292.1 387.6,300.7 391.7,309.4 C395.7,318.2 398.7,328.7 401.2,338.5 C403.7,348.3 405.6,357.8 406.7,368.4 C407.9,378.9 408.4,390.2 408.1,401.7 C407.8,413.2 406.6,426.1 405.0,437.5 C403.4,448.9 401.5,459.9 398.5,470.0 C395.4,480.1 391.8,490.0 386.7,498.2 C381.6,506.5 374.7,514.2 368.1,519.5 C361.5,524.8 353.9,528.0 347.3,529.8 C340.7,531.5 334.4,531.1 328.6,529.8 C322.7,528.4 316.9,525.2 312.0,521.4 C307.0,517.6 302.5,512.3 298.7,507.1 C294.8,501.8 290.3,492.8 288.6,490.0" stroke="#b13a4d"/>
</g>
<g  fill="none" stroke="#a5331c" stroke-width="1.6" stroke-linecap="round">
<ellipse cx="212.2" cy="422.5" rx="12.2" ry="24"/>
<ellipse cx="212" cy="423" rx="24" ry="44.5"/>
<path d="M190.5,373.5 C196,364.5 205,360.5 214,360.8 C234,361.5 247.5,388 247.5,421 C247.5,455 234,480 214,480.3 C204,480.5 196,476 191,468.5"/>
</g>
<g transform="translate(512.6,0) scale(-1,1)" fill="none" stroke="#a5331c" stroke-width="1.6" stroke-linecap="round">
<ellipse cx="212.2" cy="422.5" rx="12.2" ry="24"/>
<ellipse cx="212" cy="423" rx="24" ry="44.5"/>
<path d="M190.5,373.5 C196,364.5 205,360.5 214,360.8 C234,361.5 247.5,388 247.5,421 C247.5,455 234,480 214,480.3 C204,480.5 196,476 191,468.5"/>
</g>
<path d="M6.2,0 L-5.4,-5.1 L-2.8,0 L-5.4,5.1 Z" fill="#b5371d" transform="translate(188.0,422.5) rotate(90) scale(0.86)"/>
<path d="M6.2,0 L-5.4,-5.1 L-2.8,0 L-5.4,5.1 Z" fill="#b5371d" transform="translate(200.0,422.5) rotate(90) scale(0.86)"/>
<path d="M6.2,0 L-5.4,-5.1 L-2.8,0 L-5.4,5.1 Z" fill="#b5371d" transform="translate(224.4,421.0) rotate(-90) scale(0.86)"/>
<path d="M6.2,0 L-5.4,-5.1 L-2.8,0 L-5.4,5.1 Z" fill="#b5371d" transform="translate(236.0,421.0) rotate(-90) scale(0.86)"/>
<path d="M6.2,0 L-5.4,-5.1 L-2.8,0 L-5.4,5.1 Z" fill="#b5371d" transform="translate(247.5,421.0) rotate(-90) scale(0.86)"/>
<path d="M6.2,0 L-5.4,-5.1 L-2.8,0 L-5.4,5.1 Z" fill="#b5371d" transform="translate(191.5,372.5) rotate(135) scale(0.78)"/>
<path d="M6.2,0 L-5.4,-5.1 L-2.8,0 L-5.4,5.1 Z" fill="#b5371d" transform="translate(191.8,469.5) rotate(-125) scale(0.78)"/>
<path d="M6.2,0 L-5.4,-5.1 L-2.8,0 L-5.4,5.1 Z" fill="#b5371d" transform="translate(213.5,446.3) rotate(160) scale(0.7)"/>
<path d="M6.2,0 L-5.4,-5.1 L-2.8,0 L-5.4,5.1 Z" fill="#b5371d" transform="translate(266.0,422.5) rotate(90) scale(0.86)"/>
<path d="M6.2,0 L-5.4,-5.1 L-2.8,0 L-5.4,5.1 Z" fill="#b5371d" transform="translate(276.5,421.0) rotate(-90) scale(0.86)"/>
<path d="M6.2,0 L-5.4,-5.1 L-2.8,0 L-5.4,5.1 Z" fill="#b5371d" transform="translate(288.0,421.0) rotate(-90) scale(0.86)"/>
<path d="M6.2,0 L-5.4,-5.1 L-2.8,0 L-5.4,5.1 Z" fill="#b5371d" transform="translate(312.4,422.5) rotate(90) scale(0.86)"/>
<path d="M6.2,0 L-5.4,-5.1 L-2.8,0 L-5.4,5.1 Z" fill="#b5371d" transform="translate(324.4,422.5) rotate(90) scale(0.86)"/>
<path d="M6.2,0 L-5.4,-5.1 L-2.8,0 L-5.4,5.1 Z" fill="#b5371d" transform="translate(321.5,372.5) rotate(45) scale(0.78)"/>
<path d="M6.2,0 L-5.4,-5.1 L-2.8,0 L-5.4,5.1 Z" fill="#b5371d" transform="translate(321.0,469.5) rotate(-55) scale(0.78)"/>
<path d="M6.2,0 L-5.4,-5.1 L-2.8,0 L-5.4,5.1 Z" fill="#b5371d" transform="translate(298.0,446.3) rotate(20) scale(0.7)"/>
<circle cx="186" cy="377" r="0.9" fill="#fff3b0" opacity="0.8"/>
<circle cx="300" cy="405" r="0.9" fill="#fff3b0" opacity="0.8"/>
<circle cx="193" cy="430" r="0.9" fill="#fff3b0" opacity="0.8"/>
<circle cx="283" cy="440" r="0.9" fill="#fff3b0" opacity="0.8"/>
<circle cx="305" cy="357" r="0.9" fill="#fff3b0" opacity="0.8"/>
<circle cx="262" cy="388" r="0.9" fill="#fff3b0" opacity="0.8"/>
<circle cx="207" cy="470" r="0.9" fill="#fff3b0" opacity="0.8"/>
<circle cx="190" cy="292" r="0.8" fill="#ffc46a" opacity="0.75"/>
<circle cx="197" cy="297" r="0.8" fill="#ffc46a" opacity="0.75"/>
<circle cx="316" cy="288" r="0.8" fill="#ffc46a" opacity="0.75"/>
<circle cx="322" cy="296" r="0.8" fill="#ffc46a" opacity="0.75"/>
<circle cx="204" cy="288" r="0.8" fill="#ffc46a" opacity="0.75"/>
<circle cx="309" cy="300" r="0.8" fill="#ffc46a" opacity="0.75"/>
<g fill="none" stroke-width="2.1" stroke-linecap="round">
<path d="M243.6,326.0 C242.8,320.3 241.1,302.0 239.0,292.0 C236.9,282.0 234.1,273.7 231.2,266.0 C228.3,258.3 225.2,252.0 221.5,246.0 C217.8,240.0 212.5,234.1 209.0,230.0 C205.5,225.9 202.1,223.1 200.7,221.7" stroke="url(#gTop)"/><path d="M269.0,326.0 C269.8,320.3 271.5,302.0 273.6,292.0 C275.7,282.0 278.5,273.7 281.4,266.0 C284.3,258.3 287.4,252.0 291.1,246.0 C294.8,240.0 300.1,234.1 303.6,230.0 C307.1,225.9 310.5,223.1 311.9,221.7" stroke="url(#gTop)"/>
<path d="M250.0,326.0 C249.7,320.3 248.8,302.0 248.0,292.0 C247.2,282.0 246.6,274.7 244.9,266.0 C243.2,257.3 240.2,247.7 237.7,240.0 C235.2,232.3 231.3,223.3 230.0,220.0" stroke="url(#gTop)"/><path d="M262.6,326.0 C262.9,320.3 263.8,302.0 264.6,292.0 C265.5,282.0 266.0,274.7 267.7,266.0 C269.4,257.3 272.4,247.7 274.9,240.0 C277.4,232.3 281.3,223.3 282.6,220.0" stroke="url(#gTop)"/>
<path d="M256.3,217 L256.31,326" stroke="url(#gTop)"/>
<path d="M243.9,489.0 C243.5,492.2 242.6,501.9 241.5,508.0 C240.4,514.0 238.9,519.8 237.2,525.3 C235.4,530.8 233.4,536.5 231.0,541.0 C228.6,545.5 226.1,547.5 222.8,552.0 C219.5,556.5 214.7,563.7 211.0,568.0 C207.3,572.3 202.4,576.2 200.7,577.8" stroke="url(#gBot)"/><path d="M268.7,489.0 C269.1,492.2 270.0,501.9 271.1,508.0 C272.2,514.0 273.7,519.8 275.4,525.3 C277.2,530.8 279.2,536.5 281.6,541.0 C284.0,545.5 286.5,547.5 289.8,552.0 C293.1,556.5 297.9,563.7 301.6,568.0 C305.3,572.3 310.2,576.2 311.9,577.8" stroke="url(#gBot)"/>
<path d="M250.5,489.0 C250.3,492.2 249.9,501.9 249.3,508.0 C248.8,514.0 248.2,519.6 247.2,525.3 C246.2,531.0 244.9,536.8 243.5,542.0 C242.1,547.2 241.3,550.0 239.0,556.3 C236.7,562.6 231.1,575.7 229.5,579.6" stroke="url(#gBot)"/><path d="M262.1,489.0 C262.3,492.2 262.8,501.9 263.3,508.0 C263.9,514.0 264.4,519.6 265.4,525.3 C266.4,531.0 267.7,536.8 269.1,542.0 C270.5,547.2 271.3,550.0 273.6,556.3 C275.9,562.6 281.5,575.7 283.1,579.6" stroke="url(#gBot)"/>
<path d="M256.3,582 L256.31,489" stroke="url(#gBot)"/>
</g>
<path d="M6.2,0 L-5.4,-5.1 L-2.8,0 L-5.4,5.1 Z" fill="#2e6cac" transform="translate(256.3,242.0) rotate(90) scale(1.0)"/>
<path d="M6.2,0 L-5.4,-5.1 L-2.8,0 L-5.4,5.1 Z" fill="#2e6cac" transform="translate(237.3,241.5) rotate(74) scale(1.0)"/>
<path d="M6.2,0 L-5.4,-5.1 L-2.8,0 L-5.4,5.1 Z" fill="#2e6cac" transform="translate(275.3,241.5) rotate(106) scale(1.0)"/>
<path d="M6.2,0 L-5.4,-5.1 L-2.8,0 L-5.4,5.1 Z" fill="#2e6cac" transform="translate(221.5,245.5) rotate(-118) scale(1.0)"/>
<path d="M6.2,0 L-5.4,-5.1 L-2.8,0 L-5.4,5.1 Z" fill="#2e6cac" transform="translate(291.1,245.5) rotate(-62) scale(1.0)"/>
<path d="M6.2,0 L-5.4,-5.1 L-2.8,0 L-5.4,5.1 Z" fill="#2e6cac" transform="translate(256.3,557.0) rotate(-90) scale(1.0)"/>
<path d="M6.2,0 L-5.4,-5.1 L-2.8,0 L-5.4,5.1 Z" fill="#2e6cac" transform="translate(239.3,555.5) rotate(-74) scale(1.0)"/>
<path d="M6.2,0 L-5.4,-5.1 L-2.8,0 L-5.4,5.1 Z" fill="#2e6cac" transform="translate(273.3,555.5) rotate(-106) scale(1.0)"/>
<path d="M6.2,0 L-5.4,-5.1 L-2.8,0 L-5.4,5.1 Z" fill="#2e6cac" transform="translate(223.5,551.0) rotate(-52) scale(1.0)"/>
<path d="M6.2,0 L-5.4,-5.1 L-2.8,0 L-5.4,5.1 Z" fill="#2e6cac" transform="translate(289.1,551.0) rotate(-128) scale(1.0)"/>
<path d="M6.2,0 L-5.4,-5.1 L-2.8,0 L-5.4,5.1 Z" fill="#2f6fae" transform="translate(40.0,399.5) rotate(-90) scale(1.0)"/>
<path d="M6.2,0 L-5.4,-5.1 L-2.8,0 L-5.4,5.1 Z" fill="#3a6ea8" transform="translate(69.4,400.5) rotate(90) scale(1.0)"/>
<path d="M6.2,0 L-5.4,-5.1 L-2.8,0 L-5.4,5.1 Z" fill="#b5384e" transform="translate(103.0,400.0) rotate(-90) scale(1.0)"/>
<path d="M6.2,0 L-5.4,-5.1 L-2.8,0 L-5.4,5.1 Z" fill="#2f6fae" transform="translate(472.6,399.5) rotate(-90) scale(1.0)"/>
<path d="M6.2,0 L-5.4,-5.1 L-2.8,0 L-5.4,5.1 Z" fill="#3a6ea8" transform="translate(443.2,400.5) rotate(90) scale(1.0)"/>
<path d="M6.2,0 L-5.4,-5.1 L-2.8,0 L-5.4,5.1 Z" fill="#b5384e" transform="translate(409.6,400.0) rotate(-90) scale(1.0)"/>
<path d="M6.2,0 L-5.4,-5.1 L-2.8,0 L-5.4,5.1 Z" fill="#5d4a8c" transform="translate(164.0,249.8) rotate(2) scale(1.0)"/>
<path d="M6.2,0 L-5.4,-5.1 L-2.8,0 L-5.4,5.1 Z" fill="#5d4a8c" transform="translate(164.0,548.6) rotate(2) scale(1.0)"/>
<path d="M6.2,0 L-5.4,-5.1 L-2.8,0 L-5.4,5.1 Z" fill="#6a5a92" transform="translate(347.6,249.8) rotate(178) scale(1.0)"/>
<path d="M6.2,0 L-5.4,-5.1 L-2.8,0 L-5.4,5.1 Z" fill="#6a4a7c" transform="translate(347.6,548.6) rotate(178) scale(1.0)"/>
<path d="M6.2,0 L-5.4,-5.1 L-2.8,0 L-5.4,5.1 Z" fill="#d42a2a" transform="translate(201.5,283.5) rotate(55) scale(0.8)"/>
<path d="M6.2,0 L-5.4,-5.1 L-2.8,0 L-5.4,5.1 Z" fill="#d42a2a" transform="translate(311.1,283.5) rotate(125) scale(0.8)"/>
<g >
<g fill="none" stroke-linecap="butt" ><path d="M125.2,466.6 C124.8,482.6 124.8,494.6 131.5,504.6 C139.5,516.5 165,523.5 196.5,529.4" stroke="#66330f" stroke-width="11.4"/><path d="M125.2,466.6 C124.8,482.6 124.8,494.6 131.5,504.6 C139.5,516.5 165,523.5 196.5,529.4" stroke="#b4672a" stroke-width="9.2"/><path d="M125.2,466.6 C124.8,482.6 124.8,494.6 131.5,504.6 C139.5,516.5 165,523.5 196.5,529.4" stroke="#d4903f" stroke-width="6.3" transform="translate(-0.4,-0.6)"/><path d="M125.2,466.6 C124.8,482.6 124.8,494.6 131.5,504.6 C139.5,516.5 165,523.5 196.5,529.4" stroke="#f3c87e" stroke-width="2.9" transform="translate(-0.8,-1.3)"/></g>
<ellipse cx="197" cy="529.45" rx="4.7" ry="5.8" fill="#eba24a" stroke="#66330f" stroke-width="1.2" transform="rotate(-10 197 529.45)"/>
<ellipse cx="196.4" cy="528.6500000000001" rx="2.6" ry="3.2" fill="#f7c273" opacity="0.8" transform="rotate(-10 197 529.45)"/>
<g fill="none" stroke-linecap="butt" ><path d="M127,449.6 C125.2,453.6 125.2,456.6 125.3,458.6 C125.4,469.6 137,477.1 150.3,480.6" stroke="#66330f" stroke-width="11.4"/><path d="M127,449.6 C125.2,453.6 125.2,456.6 125.3,458.6 C125.4,469.6 137,477.1 150.3,480.6" stroke="#b4672a" stroke-width="9.2"/><path d="M127,449.6 C125.2,453.6 125.2,456.6 125.3,458.6 C125.4,469.6 137,477.1 150.3,480.6" stroke="#d4903f" stroke-width="6.3" transform="translate(-0.4,-0.6)"/><path d="M127,449.6 C125.2,453.6 125.2,456.6 125.3,458.6 C125.4,469.6 137,477.1 150.3,480.6" stroke="#f3c87e" stroke-width="2.9" transform="translate(-0.8,-1.3)"/></g>
<ellipse cx="150.6" cy="480.55" rx="4.8" ry="5.9" fill="#eba24a" stroke="#66330f" stroke-width="1.2" transform="rotate(-14 150.6 480.55)"/>
<ellipse cx="150.0" cy="479.75" rx="2.6" ry="3.2" fill="#f7c273" opacity="0.8" transform="rotate(-14 150.6 480.55)"/>
<g fill="none" stroke-linecap="butt" ><path d="M127,428.9 C125.2,432.9 125.2,435.9 125.3,437.9 C125.4,448.9 137,456.4 150.3,459.9" stroke="#66330f" stroke-width="11.4"/><path d="M127,428.9 C125.2,432.9 125.2,435.9 125.3,437.9 C125.4,448.9 137,456.4 150.3,459.9" stroke="#b4672a" stroke-width="9.2"/><path d="M127,428.9 C125.2,432.9 125.2,435.9 125.3,437.9 C125.4,448.9 137,456.4 150.3,459.9" stroke="#d4903f" stroke-width="6.3" transform="translate(-0.4,-0.6)"/><path d="M127,428.9 C125.2,432.9 125.2,435.9 125.3,437.9 C125.4,448.9 137,456.4 150.3,459.9" stroke="#f3c87e" stroke-width="2.9" transform="translate(-0.8,-1.3)"/></g>
<ellipse cx="150.6" cy="459.9" rx="4.8" ry="5.9" fill="#eba24a" stroke="#66330f" stroke-width="1.2" transform="rotate(-14 150.6 459.9)"/>
<ellipse cx="150.0" cy="459.09999999999997" rx="2.6" ry="3.2" fill="#f7c273" opacity="0.8" transform="rotate(-14 150.6 459.9)"/>
<g fill="none" stroke-linecap="butt" ><path d="M127,408.2 C125.2,412.2 125.2,415.2 125.3,417.2 C125.4,428.2 137,435.8 150.3,439.2" stroke="#66330f" stroke-width="11.4"/><path d="M127,408.2 C125.2,412.2 125.2,415.2 125.3,417.2 C125.4,428.2 137,435.8 150.3,439.2" stroke="#b4672a" stroke-width="9.2"/><path d="M127,408.2 C125.2,412.2 125.2,415.2 125.3,417.2 C125.4,428.2 137,435.8 150.3,439.2" stroke="#d4903f" stroke-width="6.3" transform="translate(-0.4,-0.6)"/><path d="M127,408.2 C125.2,412.2 125.2,415.2 125.3,417.2 C125.4,428.2 137,435.8 150.3,439.2" stroke="#f3c87e" stroke-width="2.9" transform="translate(-0.8,-1.3)"/></g>
<ellipse cx="150.6" cy="439.25" rx="4.8" ry="5.9" fill="#eba24a" stroke="#66330f" stroke-width="1.2" transform="rotate(-14 150.6 439.25)"/>
<ellipse cx="150.0" cy="438.45" rx="2.6" ry="3.2" fill="#f7c273" opacity="0.8" transform="rotate(-14 150.6 439.25)"/>
<g fill="none" stroke-linecap="butt" ><path d="M127,387.6 C125.2,391.6 125.2,394.6 125.3,396.6 C125.4,407.6 137,415.1 150.3,418.6" stroke="#66330f" stroke-width="11.4"/><path d="M127,387.6 C125.2,391.6 125.2,394.6 125.3,396.6 C125.4,407.6 137,415.1 150.3,418.6" stroke="#b4672a" stroke-width="9.2"/><path d="M127,387.6 C125.2,391.6 125.2,394.6 125.3,396.6 C125.4,407.6 137,415.1 150.3,418.6" stroke="#d4903f" stroke-width="6.3" transform="translate(-0.4,-0.6)"/><path d="M127,387.6 C125.2,391.6 125.2,394.6 125.3,396.6 C125.4,407.6 137,415.1 150.3,418.6" stroke="#f3c87e" stroke-width="2.9" transform="translate(-0.8,-1.3)"/></g>
<ellipse cx="150.6" cy="418.6" rx="4.8" ry="5.9" fill="#eba24a" stroke="#66330f" stroke-width="1.2" transform="rotate(-14 150.6 418.6)"/>
<ellipse cx="150.0" cy="417.8" rx="2.6" ry="3.2" fill="#f7c273" opacity="0.8" transform="rotate(-14 150.6 418.6)"/>
<g fill="none" stroke-linecap="butt" ><path d="M127,366.9 C125.2,370.9 125.2,373.9 125.3,375.9 C125.4,386.9 137,394.4 150.3,397.9" stroke="#66330f" stroke-width="11.4"/><path d="M127,366.9 C125.2,370.9 125.2,373.9 125.3,375.9 C125.4,386.9 137,394.4 150.3,397.9" stroke="#b4672a" stroke-width="9.2"/><path d="M127,366.9 C125.2,370.9 125.2,373.9 125.3,375.9 C125.4,386.9 137,394.4 150.3,397.9" stroke="#d4903f" stroke-width="6.3" transform="translate(-0.4,-0.6)"/><path d="M127,366.9 C125.2,370.9 125.2,373.9 125.3,375.9 C125.4,386.9 137,394.4 150.3,397.9" stroke="#f3c87e" stroke-width="2.9" transform="translate(-0.8,-1.3)"/></g>
<ellipse cx="150.6" cy="397.95" rx="4.8" ry="5.9" fill="#eba24a" stroke="#66330f" stroke-width="1.2" transform="rotate(-14 150.6 397.95)"/>
<ellipse cx="150.0" cy="397.15" rx="2.6" ry="3.2" fill="#f7c273" opacity="0.8" transform="rotate(-14 150.6 397.95)"/>
<g fill="none" stroke-linecap="butt" ><path d="M149,331.8 C134,335.8 125.2,345.3 125.3,355.3 C125.4,366.3 137,373.8 150.3,377.3" stroke="#66330f" stroke-width="11.4"/><path d="M149,331.8 C134,335.8 125.2,345.3 125.3,355.3 C125.4,366.3 137,373.8 150.3,377.3" stroke="#b4672a" stroke-width="9.2"/><path d="M149,331.8 C134,335.8 125.2,345.3 125.3,355.3 C125.4,366.3 137,373.8 150.3,377.3" stroke="#d4903f" stroke-width="6.3" transform="translate(-0.4,-0.6)"/><path d="M149,331.8 C134,335.8 125.2,345.3 125.3,355.3 C125.4,366.3 137,373.8 150.3,377.3" stroke="#f3c87e" stroke-width="2.9" transform="translate(-0.8,-1.3)"/></g>
<ellipse cx="150.6" cy="377.3" rx="4.8" ry="5.9" fill="#eba24a" stroke="#66330f" stroke-width="1.2" transform="rotate(-14 150.6 377.3)"/>
<ellipse cx="150.0" cy="376.5" rx="2.6" ry="3.2" fill="#f7c273" opacity="0.8" transform="rotate(-14 150.6 377.3)"/>
</g>
<g transform="translate(512.6,0) scale(-1,1)">
<g fill="none" stroke-linecap="butt" ><path d="M125.2,466.6 C124.8,482.6 124.8,494.6 131.5,504.6 C139.5,516.5 165,523.5 196.5,529.4" stroke="#66330f" stroke-width="11.4"/><path d="M125.2,466.6 C124.8,482.6 124.8,494.6 131.5,504.6 C139.5,516.5 165,523.5 196.5,529.4" stroke="#b4672a" stroke-width="9.2"/><path d="M125.2,466.6 C124.8,482.6 124.8,494.6 131.5,504.6 C139.5,516.5 165,523.5 196.5,529.4" stroke="#d4903f" stroke-width="6.3" transform="translate(-0.4,-0.6)"/><path d="M125.2,466.6 C124.8,482.6 124.8,494.6 131.5,504.6 C139.5,516.5 165,523.5 196.5,529.4" stroke="#f3c87e" stroke-width="2.9" transform="translate(-0.8,-1.3)"/></g>
<ellipse cx="197" cy="529.45" rx="4.7" ry="5.8" fill="#eba24a" stroke="#66330f" stroke-width="1.2" transform="rotate(-10 197 529.45)"/>
<ellipse cx="196.4" cy="528.6500000000001" rx="2.6" ry="3.2" fill="#f7c273" opacity="0.8" transform="rotate(-10 197 529.45)"/>
<g fill="none" stroke-linecap="butt" ><path d="M127,449.6 C125.2,453.6 125.2,456.6 125.3,458.6 C125.4,469.6 137,477.1 150.3,480.6" stroke="#66330f" stroke-width="11.4"/><path d="M127,449.6 C125.2,453.6 125.2,456.6 125.3,458.6 C125.4,469.6 137,477.1 150.3,480.6" stroke="#b4672a" stroke-width="9.2"/><path d="M127,449.6 C125.2,453.6 125.2,456.6 125.3,458.6 C125.4,469.6 137,477.1 150.3,480.6" stroke="#d4903f" stroke-width="6.3" transform="translate(-0.4,-0.6)"/><path d="M127,449.6 C125.2,453.6 125.2,456.6 125.3,458.6 C125.4,469.6 137,477.1 150.3,480.6" stroke="#f3c87e" stroke-width="2.9" transform="translate(-0.8,-1.3)"/></g>
<ellipse cx="150.6" cy="480.55" rx="4.8" ry="5.9" fill="#eba24a" stroke="#66330f" stroke-width="1.2" transform="rotate(-14 150.6 480.55)"/>
<ellipse cx="150.0" cy="479.75" rx="2.6" ry="3.2" fill="#f7c273" opacity="0.8" transform="rotate(-14 150.6 480.55)"/>
<g fill="none" stroke-linecap="butt" ><path d="M127,428.9 C125.2,432.9 125.2,435.9 125.3,437.9 C125.4,448.9 137,456.4 150.3,459.9" stroke="#66330f" stroke-width="11.4"/><path d="M127,428.9 C125.2,432.9 125.2,435.9 125.3,437.9 C125.4,448.9 137,456.4 150.3,459.9" stroke="#b4672a" stroke-width="9.2"/><path d="M127,428.9 C125.2,432.9 125.2,435.9 125.3,437.9 C125.4,448.9 137,456.4 150.3,459.9" stroke="#d4903f" stroke-width="6.3" transform="translate(-0.4,-0.6)"/><path d="M127,428.9 C125.2,432.9 125.2,435.9 125.3,437.9 C125.4,448.9 137,456.4 150.3,459.9" stroke="#f3c87e" stroke-width="2.9" transform="translate(-0.8,-1.3)"/></g>
<ellipse cx="150.6" cy="459.9" rx="4.8" ry="5.9" fill="#eba24a" stroke="#66330f" stroke-width="1.2" transform="rotate(-14 150.6 459.9)"/>
<ellipse cx="150.0" cy="459.09999999999997" rx="2.6" ry="3.2" fill="#f7c273" opacity="0.8" transform="rotate(-14 150.6 459.9)"/>
<g fill="none" stroke-linecap="butt" ><path d="M127,408.2 C125.2,412.2 125.2,415.2 125.3,417.2 C125.4,428.2 137,435.8 150.3,439.2" stroke="#66330f" stroke-width="11.4"/><path d="M127,408.2 C125.2,412.2 125.2,415.2 125.3,417.2 C125.4,428.2 137,435.8 150.3,439.2" stroke="#b4672a" stroke-width="9.2"/><path d="M127,408.2 C125.2,412.2 125.2,415.2 125.3,417.2 C125.4,428.2 137,435.8 150.3,439.2" stroke="#d4903f" stroke-width="6.3" transform="translate(-0.4,-0.6)"/><path d="M127,408.2 C125.2,412.2 125.2,415.2 125.3,417.2 C125.4,428.2 137,435.8 150.3,439.2" stroke="#f3c87e" stroke-width="2.9" transform="translate(-0.8,-1.3)"/></g>
<ellipse cx="150.6" cy="439.25" rx="4.8" ry="5.9" fill="#eba24a" stroke="#66330f" stroke-width="1.2" transform="rotate(-14 150.6 439.25)"/>
<ellipse cx="150.0" cy="438.45" rx="2.6" ry="3.2" fill="#f7c273" opacity="0.8" transform="rotate(-14 150.6 439.25)"/>
<g fill="none" stroke-linecap="butt" ><path d="M127,387.6 C125.2,391.6 125.2,394.6 125.3,396.6 C125.4,407.6 137,415.1 150.3,418.6" stroke="#66330f" stroke-width="11.4"/><path d="M127,387.6 C125.2,391.6 125.2,394.6 125.3,396.6 C125.4,407.6 137,415.1 150.3,418.6" stroke="#b4672a" stroke-width="9.2"/><path d="M127,387.6 C125.2,391.6 125.2,394.6 125.3,396.6 C125.4,407.6 137,415.1 150.3,418.6" stroke="#d4903f" stroke-width="6.3" transform="translate(-0.4,-0.6)"/><path d="M127,387.6 C125.2,391.6 125.2,394.6 125.3,396.6 C125.4,407.6 137,415.1 150.3,418.6" stroke="#f3c87e" stroke-width="2.9" transform="translate(-0.8,-1.3)"/></g>
<ellipse cx="150.6" cy="418.6" rx="4.8" ry="5.9" fill="#eba24a" stroke="#66330f" stroke-width="1.2" transform="rotate(-14 150.6 418.6)"/>
<ellipse cx="150.0" cy="417.8" rx="2.6" ry="3.2" fill="#f7c273" opacity="0.8" transform="rotate(-14 150.6 418.6)"/>
<g fill="none" stroke-linecap="butt" ><path d="M127,366.9 C125.2,370.9 125.2,373.9 125.3,375.9 C125.4,386.9 137,394.4 150.3,397.9" stroke="#66330f" stroke-width="11.4"/><path d="M127,366.9 C125.2,370.9 125.2,373.9 125.3,375.9 C125.4,386.9 137,394.4 150.3,397.9" stroke="#b4672a" stroke-width="9.2"/><path d="M127,366.9 C125.2,370.9 125.2,373.9 125.3,375.9 C125.4,386.9 137,394.4 150.3,397.9" stroke="#d4903f" stroke-width="6.3" transform="translate(-0.4,-0.6)"/><path d="M127,366.9 C125.2,370.9 125.2,373.9 125.3,375.9 C125.4,386.9 137,394.4 150.3,397.9" stroke="#f3c87e" stroke-width="2.9" transform="translate(-0.8,-1.3)"/></g>
<ellipse cx="150.6" cy="397.95" rx="4.8" ry="5.9" fill="#eba24a" stroke="#66330f" stroke-width="1.2" transform="rotate(-14 150.6 397.95)"/>
<ellipse cx="150.0" cy="397.15" rx="2.6" ry="3.2" fill="#f7c273" opacity="0.8" transform="rotate(-14 150.6 397.95)"/>
<g fill="none" stroke-linecap="butt" ><path d="M149,331.8 C134,335.8 125.2,345.3 125.3,355.3 C125.4,366.3 137,373.8 150.3,377.3" stroke="#66330f" stroke-width="11.4"/><path d="M149,331.8 C134,335.8 125.2,345.3 125.3,355.3 C125.4,366.3 137,373.8 150.3,377.3" stroke="#b4672a" stroke-width="9.2"/><path d="M149,331.8 C134,335.8 125.2,345.3 125.3,355.3 C125.4,366.3 137,373.8 150.3,377.3" stroke="#d4903f" stroke-width="6.3" transform="translate(-0.4,-0.6)"/><path d="M149,331.8 C134,335.8 125.2,345.3 125.3,355.3 C125.4,366.3 137,373.8 150.3,377.3" stroke="#f3c87e" stroke-width="2.9" transform="translate(-0.8,-1.3)"/></g>
<ellipse cx="150.6" cy="377.3" rx="4.8" ry="5.9" fill="#eba24a" stroke="#66330f" stroke-width="1.2" transform="rotate(-14 150.6 377.3)"/>
<ellipse cx="150.0" cy="376.5" rx="2.6" ry="3.2" fill="#f7c273" opacity="0.8" transform="rotate(-14 150.6 377.3)"/>
</g>
<line x1="316" y1="350" x2="484" y2="350" stroke="#111" stroke-width="1.9"/><circle cx="316" cy="350" r="4.2" fill="#0c0c0c"/>
<g fill="none" stroke="#1a1209" stroke-width="2.5" stroke-linecap="round" stroke-linejoin="round">
<circle cx="92" cy="672.5" r="25.2"/>
<path d="M66.2,653.1 A32.3,32.3 0 1 1 63.7,688.2"/>
<rect x="84" y="628.4" width="16" height="6.6" rx="2.2"/><path d="M89.8,635.2 L89.8,640.2 M94.2,635.2 L94.2,640.2"/>
<path d="M69.0,646.0 L65.6,642.6 M68.3,639.9 L62.9,645.3"/>
<path d="M115.0,646.0 L118.4,642.6 M115.7,639.9 L121.1,645.3"/>
<path d="M92.0,652.7 L92.0,647.7"/>
<path d="M106.5,658.0 L109.5,655.0"/>
<path d="M111.8,672.5 L116.8,672.5"/>
<path d="M106.5,687.0 L109.5,690.0"/>
<path d="M92.0,692.3 L92.0,697.3"/>
<path d="M77.5,687.0 L74.5,690.0"/>
<path d="M72.2,672.5 L67.2,672.5"/>
<path d="M77.5,658.0 L74.5,655.0"/>
<path d="M94.6,669.9 L103.4,661.3" stroke-width="2.8"/>
<circle cx="92" cy="672.5" r="3.4" fill="#f0dc8a"/>
<path d="M53.5,657.9 L64.2,657.9"/>
<path d="M46.9,665.3 L61.8,665.3"/>
<path d="M41.6,672.5 L60.4,672.5"/>
<path d="M46.9,679.4 L61.8,679.4"/>
<path d="M53.5,686.2 L64.2,686.2"/>
</g>
<defs><linearGradient id="drop" x1="0.2" y1="0.2" x2="0.85" y2="1"><stop offset="0" stop-color="#f6eaa8"/><stop offset="0.5" stop-color="#f1e29a"/><stop offset="0.78" stop-color="#c3d6d6"/><stop offset="1" stop-color="#9fc4da"/></linearGradient>
<linearGradient id="spark" x1="0" y1="0" x2="1" y2="1"><stop offset="0" stop-color="#d6ecf3"/><stop offset="1" stop-color="#8fbdd6"/></linearGradient></defs>
<path d="M448.9,624.2 L425.2,664.5 A28.2,28.2 0 1 0 476.9,675 L460.5,642.8 Z" fill="url(#drop)" stroke="none"/>
<path d="M460.2,642.2 L448.9,624.2 L425.2,664.5 A28.2,28.2 0 1 0 474.6,667.6" fill="none" stroke="#1a1209" stroke-width="2.5" stroke-linecap="round" stroke-linejoin="round"/>
<path d="M428.9,680 A20.2,20.2 0 0 0 446,699.6" fill="none" stroke="#1a1209" stroke-width="2.5" stroke-linecap="round"/>
<ellipse cx="437.6" cy="660.5" rx="2.9" ry="8.2" fill="#fffdf0" opacity="0.92" transform="rotate(22 437.6 660.5)"/>
<path d="M469.6,633.2 Q472.064,646.976 485.0,649.6 Q472.064,652.352 469.6,666.8000000000001 Q467.136,652.352 454.20000000000005,649.6 Q467.136,646.976 469.6,633.2 Z" fill="url(#spark)" stroke="#1a1209" stroke-width="2.4" stroke-linejoin="round"/>
<path d="M425.5,631.1 Q426.604,637.0640000000001 432.4,638.2 Q426.604,639.368 425.5,645.5 Q424.396,639.368 418.6,638.2 Q424.396,637.0640000000001 425.5,631.1 Z" fill="#9cc4d8" stroke="#1a1209" stroke-width="2.4" stroke-linejoin="round"/>
<path d="M47.099999999999994,838.5 L47.099999999999994,849.9 A11.7,4.4 0 0 0 70.5,849.9 L70.5,838.5 Z" fill="#f1d680" stroke="#2a170b" stroke-width="2.3" stroke-linejoin="round"/>
<path d="M47.099999999999994,844.2 A11.7,4.4 0 0 0 70.5,844.2" fill="none" stroke="#2a170b" stroke-width="2.1"/>
<ellipse cx="58.8" cy="838.5" rx="11.7" ry="4.4" fill="#f5df94" stroke="#2a170b" stroke-width="2.3"/>
<path d="M75.30000000000001,822.3 L75.30000000000001,850.3 A11.6,4.4 0 0 0 98.5,850.3 L98.5,822.3 Z" fill="#f1d680" stroke="#2a170b" stroke-width="2.3" stroke-linejoin="round"/>
<path d="M75.30000000000001,827.9 A11.6,4.4 0 0 0 98.5,827.9" fill="none" stroke="#2a170b" stroke-width="2.1"/>
<path d="M75.30000000000001,833.5 A11.6,4.4 0 0 0 98.5,833.5" fill="none" stroke="#2a170b" stroke-width="2.1"/>
<path d="M75.30000000000001,839.0999999999999 A11.6,4.4 0 0 0 98.5,839.0999999999999" fill="none" stroke="#2a170b" stroke-width="2.1"/>
<path d="M75.30000000000001,844.6999999999999 A11.6,4.4 0 0 0 98.5,844.6999999999999" fill="none" stroke="#2a170b" stroke-width="2.1"/>
<ellipse cx="86.9" cy="822.3" rx="11.6" ry="4.4" fill="#f5df94" stroke="#2a170b" stroke-width="2.3"/>
<path d="M103.4,805.4 L103.4,849.8 A11.8,4.4 0 0 0 127.0,849.8 L127.0,805.4 Z" fill="#f1d680" stroke="#2a170b" stroke-width="2.3" stroke-linejoin="round"/>
<path d="M103.4,810.9499999999999 A11.8,4.4 0 0 0 127.0,810.9499999999999" fill="none" stroke="#2a170b" stroke-width="2.1"/>
<path d="M103.4,816.5 A11.8,4.4 0 0 0 127.0,816.5" fill="none" stroke="#2a170b" stroke-width="2.1"/>
<path d="M103.4,822.05 A11.8,4.4 0 0 0 127.0,822.05" fill="none" stroke="#2a170b" stroke-width="2.1"/>
<path d="M103.4,827.6 A11.8,4.4 0 0 0 127.0,827.6" fill="none" stroke="#2a170b" stroke-width="2.1"/>
<path d="M103.4,833.15 A11.8,4.4 0 0 0 127.0,833.15" fill="none" stroke="#2a170b" stroke-width="2.1"/>
<path d="M103.4,838.6999999999999 A11.8,4.4 0 0 0 127.0,838.6999999999999" fill="none" stroke="#2a170b" stroke-width="2.1"/>
<path d="M103.4,844.25 A11.8,4.4 0 0 0 127.0,844.25" fill="none" stroke="#2a170b" stroke-width="2.1"/>
<ellipse cx="115.2" cy="805.4" rx="11.8" ry="4.4" fill="#f5df94" stroke="#2a170b" stroke-width="2.3"/>
<path d="M54.6,824.3 L80.6,797.6 L86.4,805.4 L103.6,787 L99.6,781.4 L120.6,774.4 L118,795.4 L113.6,790.6 L86.6,816.6 L80.4,808.4 L59.2,829.6 Z" fill="#4f9bc6" stroke="#2a170b" stroke-width="2.3" stroke-linejoin="round"/>
<path d="M63.2,805.2 A15,15 0 1 0 56.5,805.2" fill="none" stroke="#2a170b" stroke-width="2.3" stroke-linecap="round"/>
<path d="M56.4,781.6 L56.4,786.6 M63,781.6 L63,786.6" fill="none" stroke="#2a170b" stroke-width="2" stroke-linecap="round"/>
<path d="M52.8,786.8 L66.4,786.8 L66.4,791.5 Q66.4,797.6 59.6,797.8 Q52.8,797.6 52.8,791.5 Z" fill="#4f9bc6" stroke="#2a170b" stroke-width="2.3" stroke-linejoin="round"/>
<path d="M59.6,798 L59.6,805.6" fill="none" stroke="#2a170b" stroke-width="2.2" stroke-linecap="round"/>
<path d="M447.4,772.3 Q465,783.5 483.7,785.2 Q486.6,817 477,833 Q468,848 447.4,856.9 Q426.8,848 417.8,833 Q408.2,817 411.6,785.2 Q430,783.5 447.4,772.3 Z" fill="#a9bab6" stroke="#1a1209" stroke-width="2.5" stroke-linejoin="round"/>
<path d="M447.4,780.8 Q462,789.5 476.6,791 Q478.8,815 471,829.5 Q463.5,842 447.4,849.3 Q431.3,842 423.8,829.5 Q416,815 418.2,791 Q433,789.5 447.4,780.8 Z" fill="#e6c764" stroke="#1a1209" stroke-width="2.3" stroke-linejoin="round"/>
<path d="M444,791 C452,797 456,806 455.6,814 C458,811.5 458.6,808.5 458.4,805.5 C464,812 466.6,820 463.6,827 C461.4,831.6 457,834 452.4,834.4 C455.6,830.6 455,825.6 451,822 C450.6,819.4 450,817 448.4,815 C447.6,819.6 445.6,822 443,824.6 C440.6,827.6 440.6,831.4 442.6,834.2 C436.6,833 432.2,829 431,823 C429.8,816.6 433,810.6 436,806 C436.2,809 437,811 438.6,812.6 C438.2,804.6 440.2,797.4 444,791 Z" fill="#e9653c" stroke="#34160c" stroke-width="2.1" stroke-linejoin="round"/>
<circle cx="475.1" cy="837.5" r="17.6" fill="#d9503f" stroke="#34160c" stroke-width="2.2"/>
<circle cx="475.1" cy="837.5" r="12.2" fill="#ecd27a" stroke="#34160c" stroke-width="2"/>
<g stroke-linecap="butt"><path d="M466.5,828.9 L483.70000000000005,846.1 M483.70000000000005,828.9 L466.5,846.1" stroke="#34160c" stroke-width="6.4"/><path d="M465.90000000000003,828.3 L484.3,846.7 M484.3,828.3 L465.90000000000003,846.7" stroke="#d9503f" stroke-width="3.4"/></g>
<circle cx="475.1" cy="837.5" r="14.9" fill="none" stroke="#d9503f" stroke-width="3.6"/>
<g stroke="#1a1209" stroke-width="2.5" stroke-linejoin="round" stroke-linecap="round">
<path d="M75.2,941 L60,975.2 M75.2,941 L90.8,975.2 M142.6,941 L127,975.2 M142.6,941 L158.2,975.2" fill="none"/>
<path d="M104.5,1002 L104.5,916 Q104.5,911.4 108.9,911.4 Q113.3,911.4 113.3,916 L113.3,1002 Z" fill="#5b84b3"/>
<path d="M103.5,925.6 C92,926.5 84,933.5 76,933.3 C72.5,933.2 70.5,931 68.6,931.5 C66,932.2 65.6,936.5 68.6,938.4 C74,941.5 84,939.6 92,935.6 C97,933.2 100,931.6 103.5,931.4 Z" fill="#5b84b3"/>
<path d="M114.3,925.6 C125.8,926.5 133.8,933.5 141.8,933.3 C145.3,933.2 147.3,931 149.2,931.5 C151.8,932.2 152.2,936.5 149.2,938.4 C143.8,941.5 133.8,939.6 125.8,935.6 C120.8,933.2 117.8,931.6 114.3,931.4 Z" fill="#5b84b3"/>
<circle cx="108.9" cy="928.6" r="5.9" fill="#ecb364"/>
<path d="M57.8,975.2 L92.8,975.2 Q91,989.8 75.3,990 Q59.6,989.8 57.8,975.2 Z" fill="#ecb364"/>
<path d="M125.4,975.2 L160.4,975.2 Q158.6,989.8 142.9,990 Q127.2,989.8 125.4,975.2 Z" fill="#ecb364"/>
<path d="M91.5,1007.6 Q92,1001.6 97,1001.4 L121,1001.4 Q126,1001.6 126.6,1007.6 Z" fill="#5b84b3"/>
<path d="M81.6,1015.2 Q82,1007.8 89,1007.6 L129,1007.6 Q136.4,1007.8 137,1015.2 Z" fill="#5b84b3"/>
</g>
</svg>
</body></html>
